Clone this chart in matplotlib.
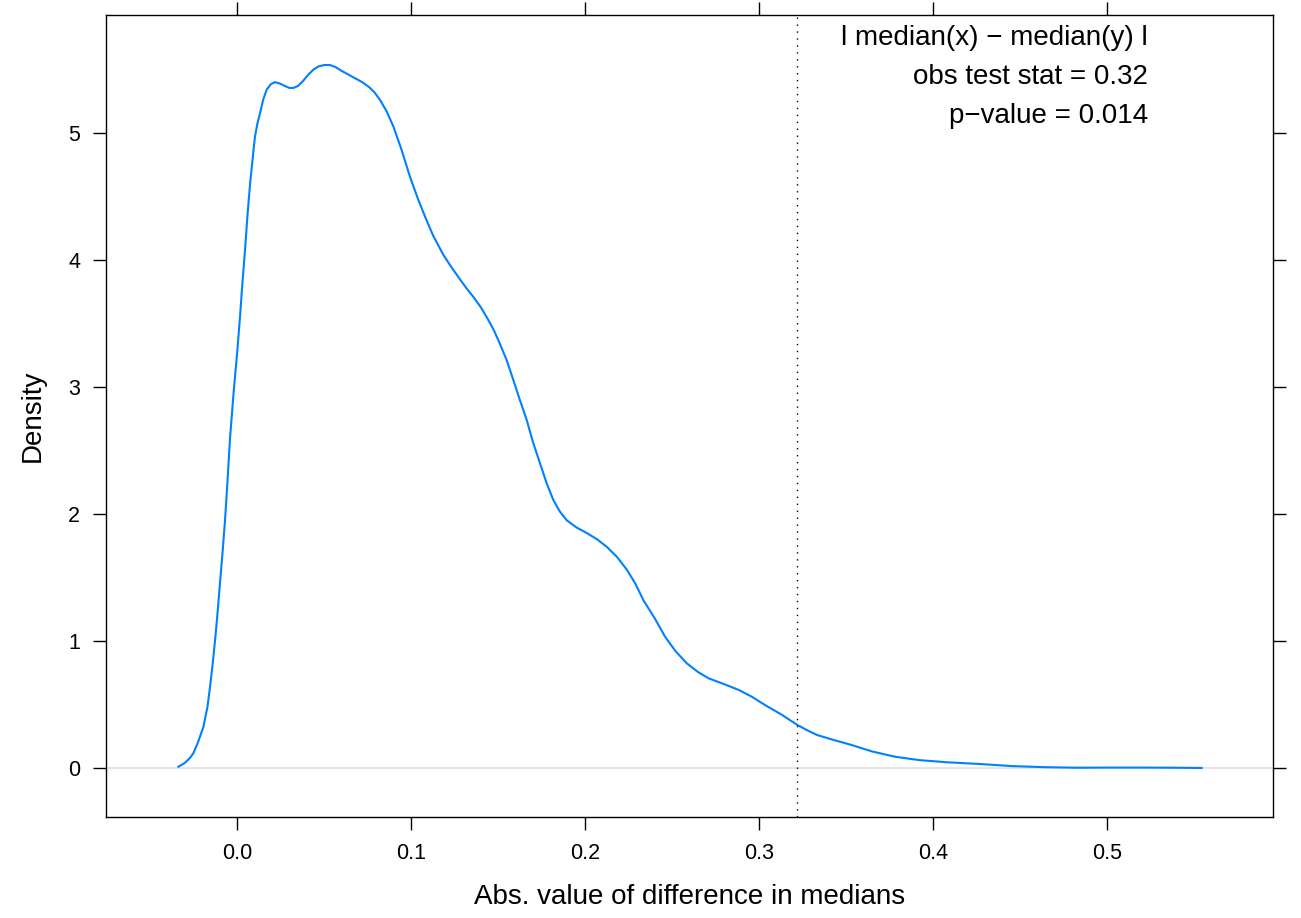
import matplotlib
matplotlib.use("Agg")
import matplotlib.pyplot as plt

plt.rcParams['font.family'] = ['Liberation Sans', 'DejaVu Sans']

# density curve
diff = [-0.0337, -0.0300, -0.0270, -0.0251, -0.0225, -0.0193, -0.0170, -0.0155,
        -0.0140, -0.0126, -0.0112, -0.0098, -0.0083, -0.0069, -0.0055, -0.0040,
        -0.0020, 0.0002, 0.0017, 0.0030, 0.0046, 0.0060, 0.0075, 0.0090,
        0.0103, 0.0118, 0.0132, 0.0150, 0.0170, 0.0195, 0.0218, 0.0245,
        0.0275, 0.0300, 0.0324, 0.0350, 0.0380, 0.0410, 0.0440, 0.0470,
        0.0500, 0.0534, 0.0565, 0.0600, 0.0640, 0.0680, 0.0720, 0.0760,
        0.0790, 0.0822, 0.0860, 0.0899, 0.0945, 0.0994, 0.1040, 0.1090,
        0.1128, 0.1186, 0.1224, 0.1280, 0.1320, 0.1358, 0.1400, 0.1435,
        0.1475, 0.1511, 0.1550, 0.1588, 0.1625, 0.1665, 0.1700, 0.1741,
        0.1780, 0.1818, 0.1855, 0.1895, 0.1950, 0.2010, 0.2070, 0.2126,
        0.2185, 0.2241, 0.2290, 0.2336, 0.2400, 0.2460, 0.2520, 0.2585,
        0.2650, 0.2710, 0.2800, 0.2884, 0.2960, 0.3034, 0.3130, 0.3220,
        0.3280, 0.3333, 0.3430, 0.3532, 0.3650, 0.3780, 0.3920, 0.4080,
        0.4260, 0.4454, 0.4650, 0.4830, 0.5000, 0.5200, 0.5400, 0.5544]
dens = [0.010, 0.040, 0.080, 0.116, 0.200, 0.325, 0.480, 0.640,
        0.820, 1.008, 1.220, 1.454, 1.700, 1.950, 2.250, 2.600,
        2.950, 3.290, 3.550, 3.800, 4.080, 4.350, 4.600, 4.800,
        4.970, 5.080, 5.155, 5.260, 5.340, 5.385, 5.400, 5.390,
        5.370, 5.355, 5.355, 5.370, 5.410, 5.460, 5.500, 5.525,
        5.535, 5.535, 5.520, 5.490, 5.460, 5.430, 5.400, 5.360,
        5.320, 5.260, 5.170, 5.050, 4.870, 4.656, 4.480, 4.310,
        4.190, 4.040, 3.960, 3.850, 3.775, 3.710, 3.630, 3.550,
        3.450, 3.340, 3.210, 3.055, 2.900, 2.740, 2.570, 2.400,
        2.240, 2.110, 2.020, 1.950, 1.895, 1.850, 1.800, 1.740,
        1.660, 1.560, 1.450, 1.320, 1.180, 1.034, 0.920, 0.824,
        0.755, 0.706, 0.660, 0.614, 0.560, 0.496, 0.420, 0.339,
        0.295, 0.260, 0.220, 0.181, 0.130, 0.089, 0.062, 0.045,
        0.032, 0.015, 0.006, 0.002, 0.003, 0.003, 0.002, 0.000]

obs_stat = 0.3218
xticks = [0.0, 0.1, 0.2, 0.3, 0.4, 0.5]
yticks = [0, 1, 2, 3, 4, 5]
notes = ["l median(x) \u2212 median(y) l", "obs test stat = 0.32", "p\u2212value = 0.014"]

fig = plt.figure(figsize=(13.01, 9.18), dpi=100)
ax = fig.add_axes([106/1301, 1 - 817/918, 1167/1301, 802/918])

ax.axhline(0, color='#e6e6e6', lw=1.5, zorder=1)
ax.plot(diff, dens, color='#0080ff', lw=1.5, zorder=3)
ax.axvline(obs_stat, color='black', lw=1.0, linestyle=(0, (1, 4)), zorder=2)

ax.set_xlim(-0.0753, 0.5954)
ax.set_ylim(-0.386, 5.929)

ax.set_xticks(xticks)
ax.set_xticklabels(["%.1f" % v for v in xticks])
ax.set_yticks(yticks)
ax.tick_params(direction='out', length=9.5, width=1.0, labelsize=15.5, pad=9,
               top=True, right=True, labeltop=False, labelright=False)
for s in ax.spines.values():
    s.set_linewidth(1.0)

ax.set_xlabel("Abs. value of difference in medians", fontsize=20, va='center')
ax.xaxis.set_label_coords(0.5, -0.0998)
ax.set_ylabel("Density", fontsize=20, va='center')
ax.yaxis.set_label_coords(-0.0626, 0.5)

# note lines, right aligned, placed in pixels from the top of the figure
for i, t in enumerate(notes):
    ax.text(1148, 918 - (38 + 39 * i), t, transform=None, fontsize=20,
            ha='right', va='center')

fig.savefig("out.png", dpi=100)
